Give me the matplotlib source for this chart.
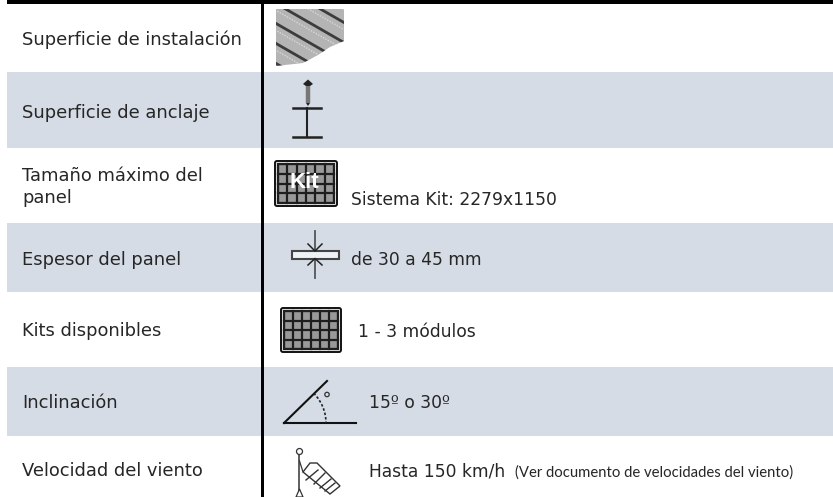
import numpy as np
import matplotlib
matplotlib.use("Agg")
import matplotlib.pyplot as plt
from matplotlib.patches import Rectangle, Polygon, FancyBboxPatch, Circle, Arc

labels = ["Superficie de instalación", "Superficie de anclaje", "Tamaño máximo del\npanel",
          "Espesor del panel", "Kits disponibles", "Inclinación", "Velocidad del viento"]
label_base = [45, 118, 203, 265, 336, 408, 476]
values = ["Sistema Kit: 2279x1150", "de 30 a 45 mm", "1 - 3 módulos", "15º o 30º", "Hasta 150 km/h"]
value_x = [351, 351, 358, 369, 369]
value_base = [205, 265, 337, 408, 477]
note = "(Ver documento de velocidades del viento)"
row_edges = [4, 72, 148, 223, 292, 367, 436, 497]

FONT = "DejaVu Sans"
BAND = "#d5dce6"
TXT = "#262626"

fig = plt.figure(figsize=(8.33, 4.97), dpi=100)
ax = fig.add_axes([0, 0, 1, 1])
ax.set_xlim(0, 833); ax.set_ylim(497, 0); ax.axis("off")

for i in range(7):
    if i % 2 == 1:
        ax.add_patch(Rectangle((7, row_edges[i]), 826, row_edges[i+1]-row_edges[i], fc=BAND, ec="none", zorder=1))
ax.add_patch(Rectangle((7, 0), 826, 4, fc="black", ec="none", zorder=5))
ax.add_patch(Rectangle((261, 0), 3, 497, fc="black", ec="none", zorder=5))

for s, y in zip(labels, label_base):
    ax.text(22, y, s, fontsize=12.9, family=FONT, color=TXT, va="baseline", ha="left", linespacing=1.27, zorder=6)
for s, x, y in zip(values, value_x, value_base):
    ax.text(x, y, s, fontsize=12.3, family=FONT, color=TXT, va="baseline", ha="left", zorder=6)
ax.text(515, 477, note, fontsize=10.7, family="Lato", color=TXT, va="baseline", ha="left", zorder=6)

# icon 1: corrugated surface
clip = Polygon([(276, 9), (344, 9), (344, 41), (330, 47), (318, 55), (303, 63), (276, 66)], closed=True, fc="#b4b4b4", ec="none", zorder=2)
ax.add_patch(clip)
for off in np.arange(-40, 80, 20):
    l, = ax.plot([270, 350], [off, off + 46], color="#3c3c3c", lw=2.0, zorder=3)
    l.set_clip_path(clip)
for off in np.arange(-33, 80, 20):
    l, = ax.plot([270, 350], [off, off + 46], color="#d8d8d8", lw=1.0, ls=(0, (1, 1)), zorder=3)
    l.set_clip_path(clip)

# icon 2: screw and I beam
ax.plot([308, 308], [84, 103], color="#777777", lw=3.2, solid_capstyle="butt", zorder=3)
ax.add_patch(Polygon([(303, 84), (308, 79.5), (313, 84), (310, 86), (306, 86)], fc="#222222", ec="none", zorder=4))
ax.add_patch(Polygon([(306, 103), (310, 103), (308, 106)], fc="#222222", ec="none", zorder=4))
ax.plot([293.5, 321], [108, 108], color="#222222", lw=1.8, zorder=3)
ax.plot([293.5, 321], [136.5, 136.5], color="#222222", lw=1.8, zorder=3)
ax.plot([307.5, 307.5], [108, 136.5], color="#222222", lw=1.5, zorder=3)


def panel(x0, y0, x1, y1, inset):
    ax.add_patch(FancyBboxPatch((x0+1, y0+1), x1-x0-2, y1-y0-2, boxstyle="round,pad=0,rounding_size=2",
                                fc="white", ec="#111111", lw=1.4, zorder=3))
    ix0, iy0, ix1, iy1 = x0+inset, y0+inset, x1-inset, y1-inset
    ax.add_patch(Rectangle((ix0, iy0), ix1-ix0, iy1-iy0, fc="#999999", ec="#1e1e1e", lw=1.7, zorder=3))
    for x in np.linspace(ix0, ix1, 7)[1:-1]:
        ax.plot([x, x], [iy0, iy1], color="#1e1e1e", lw=1.6, zorder=3)
    for y in np.linspace(iy0, iy1, 5)[1:-1]:
        ax.plot([ix0, ix1], [y, y], color="#1e1e1e", lw=1.6, zorder=3)


# icon 3
panel(274, 160, 338, 207, 4)
ax.text(304.5, 183, "Kit", fontsize=16, family="Liberation Sans", weight="bold", color="white", ha="center", va="center", zorder=6)

# icon 4: thickness
ax.add_patch(Rectangle((292, 251), 47, 7.5, fc="#eef1f5", ec="#444444", lw=1.5, zorder=3))
ax.plot([315, 315], [231, 250], color="#555555", lw=1.3, zorder=3)
ax.plot([315, 315], [259, 278], color="#555555", lw=1.3, zorder=3)
ax.plot([308, 315, 322], [244, 251, 244], color="#222222", lw=1.1, zorder=4)
ax.plot([308, 315, 322], [265, 258.5, 265], color="#222222", lw=1.1, zorder=4)

# icon 5
panel(280, 307, 342, 353, 4)

# icon 6: angle
ax.plot([284, 327], [423, 381], color="#111111", lw=1.5, zorder=3)
ax.plot([284, 356], [423, 423], color="#111111", lw=1.5, zorder=3)
ax.add_patch(Arc((284, 423), 84, 84, theta1=-45, theta2=0, color="#222222", lw=1.2, ls=(0, (1.5, 1.2)), zorder=3))
ax.add_patch(Circle((327, 394.5), 2.2, fc="none", ec="#333333", lw=0.9, zorder=3))

# icon 7: windsock
ax.plot([299.5, 299.5], [455, 497], color="#333333", lw=1.1, zorder=3)
ax.add_patch(Circle((299.5, 451.5), 3, fc="white", ec="#333333", lw=0.9, zorder=3))
ax.plot([299.5, 303], [461, 472], color="#333333", lw=0.9, zorder=3)
ax.add_patch(Polygon([(303, 472), (310, 463), (317, 463), (340, 486), (330, 494)], fc="white", ec="#333333", lw=1.0, zorder=3))
for (a, b), (c, d) in [((318, 470), (306, 480)), ((325, 473), (314, 484)), ((331, 479), (320, 488)), ((335, 483), (325, 491))]:
    ax.plot([a, c], [b, d], color="#333333", lw=1.0, zorder=4)
ax.add_patch(Polygon([(296, 497), (299.5, 489), (303, 497)], fc="white", ec="#333333", lw=0.9, zorder=4))

fig.savefig("out.png", dpi=100)
